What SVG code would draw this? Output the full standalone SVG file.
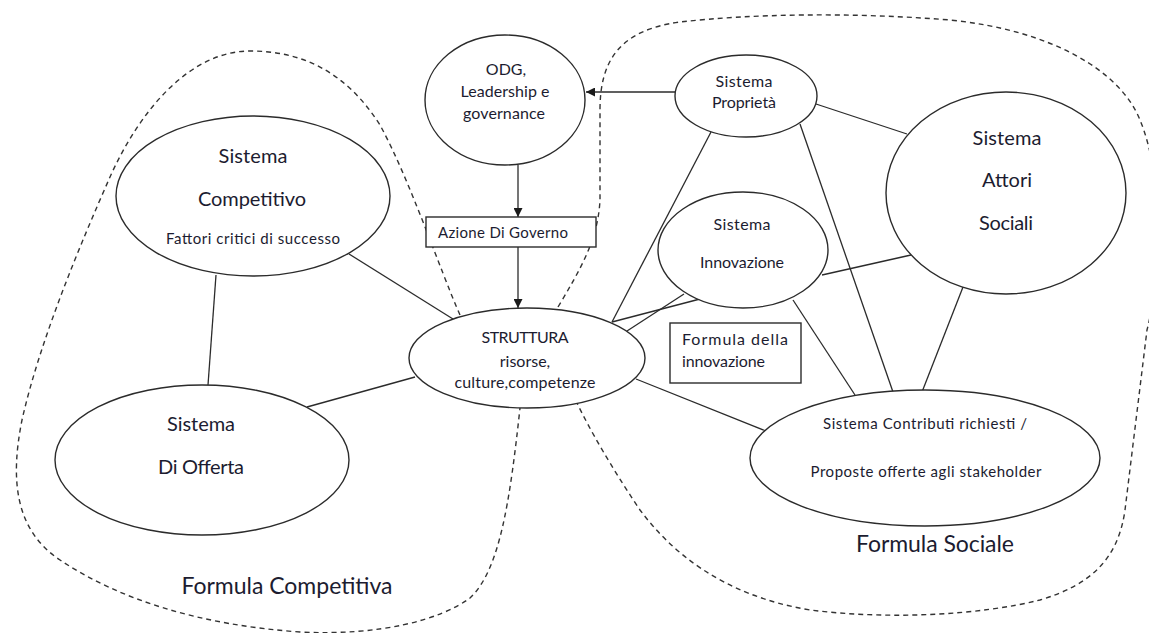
<svg xmlns="http://www.w3.org/2000/svg" width="1149" height="633" viewBox="0 0 1149 633">
<style>
.n{fill:#fff;stroke:#2b2b2b;stroke-width:1.4}
.c{stroke:#2b2b2b;stroke-width:1.3;fill:none}
.d{stroke:#333;stroke-width:1.4;fill:none;stroke-dasharray:5,4}
text{font-family:Lato,"Open Sans","Liberation Sans",sans-serif;fill:#1c1c30}
.m{text-anchor:middle}
.b{font-size:20px}
.s{font-size:16px}
.t{font-size:15px}
.f{font-size:23px}
</style>
<defs>
<marker id="ah" viewBox="0 0 10 10" refX="10" refY="5" markerWidth="9" markerHeight="9" markerUnits="userSpaceOnUse" orient="auto">
<path d="M0,0L10,5L0,10z" fill="#1a1a1a"/>
</marker>
</defs>
<g id="boundaries">
<path class="d" d="M460,315 C440,270 410,180 380,125 C345,70 300,51 250,51 C190,51 140,110 110,177 C80,245 40,340 22,420 C10,480 15,530 60,560 C120,600 200,625 300,632 C380,636 440,620 470,598 C500,570 510,500 520,408"/>
<path class="d" d="M558,307 C580,270 598,240 600,200 L600,110 C600,60 620,30 680,22 C750,14 850,12 950,20 C1050,30 1120,70 1140,120 C1165,180 1160,280 1147,330 L1125,510 C1118,560 1090,585 1040,600 C980,615 890,620 810,610 C720,595 670,550 640,510 C610,465 590,430 577,403"/>
</g>
<g id="connectors">
<line class="c" x1="675" y1="92" x2="586" y2="92" marker-end="url(#ah)"/>
<line class="c" x1="518" y1="165" x2="518" y2="217" marker-end="url(#ah)"/>
<line class="c" x1="518" y1="247" x2="518" y2="308" marker-end="url(#ah)"/>
<line class="c" x1="349" y1="254" x2="453" y2="319"/>
<line class="c" x1="216" y1="275" x2="208" y2="385"/>
<line class="c" x1="307" y1="407" x2="415" y2="377"/>
<line class="c" x1="636" y1="379" x2="766" y2="431"/>
<line class="c" x1="612" y1="322" x2="711" y2="132"/>
<line class="c" x1="612" y1="322" x2="700" y2="299"/>
<line class="c" x1="627" y1="331" x2="684" y2="294"/>
<line class="c" x1="816" y1="104" x2="907" y2="134"/>
<line class="c" x1="800" y1="124" x2="893" y2="392"/>
<line class="c" x1="822" y1="275" x2="911" y2="255"/>
<line class="c" x1="793" y1="300" x2="855" y2="395"/>
<line class="c" x1="963" y1="287" x2="922" y2="392"/>
</g>
<g id="odg">
<ellipse class="n" cx="505" cy="100" rx="80" ry="65"/>
<text class="s m" x="506" y="75">ODG,</text>
<text class="s m" x="505" y="97" textLength="89">Leadership e</text>
<text class="s m" x="504" y="119" textLength="82">governance</text>
</g>
<g id="azione">
<rect class="n" x="426" y="217" width="170" height="30"/>
<text class="t" x="438" y="238" textLength="130">Azione Di Governo</text>
</g>
<g id="competitivo">
<ellipse class="n" cx="253" cy="196" rx="137" ry="80"/>
<text class="b m" x="253" y="163" textLength="69">Sistema</text>
<text class="b m" x="252" y="206" textLength="108">Competitivo</text>
<text class="t m" x="253" y="244" textLength="174">Fattori critici di successo</text>
</g>
<g id="offerta">
<ellipse class="n" cx="202" cy="460" rx="147" ry="75"/>
<text class="b m" x="201" y="431" textLength="68">Sistema</text>
<text class="b m" x="201" y="474" textLength="86">Di Offerta</text>
</g>
<g id="struttura">
<ellipse class="n" cx="527" cy="358" rx="118" ry="50"/>
<text class="s m" x="525" y="343" textLength="87">STRUTTURA</text>
<text class="s m" x="525" y="367">risorse,</text>
<text class="s m" x="525" y="388" textLength="141">culture,competenze</text>
</g>
<g id="proprieta">
<ellipse class="n" cx="746" cy="96" rx="71" ry="41"/>
<text class="s m" x="744" y="87" textLength="57">Sistema</text>
<text class="s m" x="744" y="108" textLength="64">Proprietà</text>
</g>
<g id="innovazione">
<ellipse class="n" cx="743" cy="250" rx="85" ry="58"/>
<text class="s m" x="742" y="230" textLength="57">Sistema</text>
<text class="s m" x="742" y="268" textLength="84">Innovazione</text>
</g>
<g id="formula-innovazione">
<rect class="n" x="670" y="323" width="131" height="60"/>
<text class="s" x="682" y="345" textLength="106">Formula della</text>
<text class="s" x="682" y="367" textLength="83">innovazione</text>
</g>
<g id="attori">
<ellipse class="n" cx="1006" cy="193" rx="120" ry="101"/>
<text class="b m" x="1007" y="145" textLength="69">Sistema</text>
<text class="b m" x="1007" y="187" textLength="50">Attori</text>
<text class="b m" x="1006" y="230" textLength="54">Sociali</text>
</g>
<g id="contributi">
<ellipse class="n" cx="925" cy="458" rx="175" ry="68"/>
<text class="t m" x="925" y="429" textLength="204">Sistema Contributi richiesti /</text>
<text class="t m" x="926" y="477" textLength="231">Proposte offerte agli stakeholder</text>
</g>
<g id="labels">
<text class="f m" x="935" y="552" textLength="158">Formula Sociale</text>
<text class="f m" x="287" y="594" textLength="211">Formula Competitiva</text>
</g>
</svg>
